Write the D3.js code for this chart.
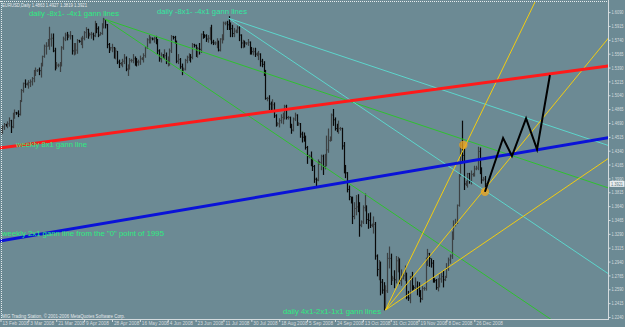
<!DOCTYPE html>
<html>
<head>
<meta charset="utf-8">
<script src="https://cdn.jsdelivr.net/npm/d3@7"></script>
<style>
  html, body { margin: 0; padding: 0; background: #6c8a94; overflow: hidden; }
  svg { display: block; }
  text { font-family: "Liberation Sans", Arial, sans-serif; }
</style>
</head>
<body>
<div id="chart"></div>
<script>
const title = 'EURUSD,Daily  1.4863 1.4927 1.3819 1.3921';
const copyright = 'MIG Trading Station, \u00a9 2001-2006 MetaQuotes Software Corp.';

// one label every 16 bars, first label = bar 0
const dateLabels = ['13 Feb 2008', '3 Mar 2008', '21 Mar 2008', '9 Apr 2008', '28 Apr 2008',
  '16 May 2008', '4 Jun 2008', '23 Jun 2008', '11 Jul 2008', '30 Jul 2008', '18 Aug 2008',
  '5 Sep 2008', '24 Sep 2008', '13 Oct 2008', '31 Oct 2008', '19 Nov 2008', '8 Dec 2008',
  '26 Dec 2008'];
const dateLabelStep = 16;

const priceTicks = [1.6090, 1.5915, 1.5740, 1.5565, 1.5390, 1.5215, 1.5040, 1.4865, 1.4690,
  1.4515, 1.4340, 1.4165, 1.3990, 1.3815, 1.3640, 1.3465, 1.3290, 1.3115, 1.2940, 1.2765,
  1.2590, 1.2415, 1.2240];
const lastPrice = 1.3921;

// daily bars (Sunday sessions included)
const highs = [
  1.4640, 1.4660, 1.4690, 1.4680, 1.4710, 1.4760, 1.4730, 1.4820, 1.4860, 1.4830,
  1.4850, 1.4980, 1.5120, 1.5200, 1.5240, 1.5200, 1.5230, 1.5240, 1.5270, 1.5360,
  1.5390, 1.5370, 1.5390, 1.5450, 1.5540, 1.5680, 1.5710, 1.5750, 1.5905, 1.5820,
  1.5820, 1.5640, 1.5460, 1.5440, 1.5460, 1.5660, 1.5780, 1.5830, 1.5840, 1.5810,
  1.5850, 1.5800, 1.5700, 1.5700, 1.5750, 1.5740, 1.5770, 1.5790, 1.5850, 1.5900,
  1.5880, 1.5830, 1.5840, 1.5830, 1.5980, 1.5950, 1.5910, 1.5840, 1.5950, 1.6018,
  1.6000, 1.5940, 1.5700, 1.5650, 1.5690, 1.5650, 1.5640, 1.5600, 1.5490, 1.5460,
  1.5500, 1.5560, 1.5530, 1.5430, 1.5510, 1.5500, 1.5560, 1.5530, 1.5510, 1.5490,
  1.5540, 1.5520, 1.5570, 1.5660, 1.5760, 1.5800, 1.5780, 1.5770, 1.5780, 1.5790,
  1.5750, 1.5620, 1.5580, 1.5560, 1.5620, 1.5580, 1.5530, 1.5630, 1.5800, 1.5790,
  1.5790, 1.5730, 1.5560, 1.5510, 1.5440, 1.5390, 1.5500, 1.5540, 1.5570, 1.5560,
  1.5700, 1.5690, 1.5680, 1.5650, 1.5700, 1.5820, 1.5850, 1.5810, 1.5810, 1.5800,
  1.5900, 1.5930, 1.5740, 1.5720, 1.5760, 1.5730, 1.5760, 1.5810, 1.5970, 1.5970,
  1.5980, 1.6038, 1.5960, 1.5930, 1.5890, 1.5870, 1.5920, 1.5910, 1.5810, 1.5740,
  1.5730, 1.5710, 1.5750, 1.5720, 1.5650, 1.5640, 1.5640, 1.5580, 1.5600, 1.5570,
  1.5500, 1.5470, 1.5360, 1.5020, 1.5040, 1.4960, 1.4990, 1.4950, 1.4800, 1.4700,
  1.4750, 1.4800, 1.4820, 1.4920, 1.4920, 1.4780, 1.4770, 1.4680, 1.4760, 1.4820,
  1.4800, 1.4700, 1.4690, 1.4580, 1.4570, 1.4530, 1.4400, 1.4290, 1.4330, 1.4250,
  1.4160, 1.4000, 1.4230, 1.4210, 1.4290, 1.4290, 1.4300, 1.4530, 1.4620, 1.4520,
  1.4810, 1.4867, 1.4760, 1.4680, 1.4720, 1.4640, 1.4630, 1.4450, 1.4160, 1.4070,
  1.3900, 1.3760, 1.3760, 1.3690, 1.3780, 1.3790, 1.3690, 1.3460, 1.3650, 1.3800,
  1.3650, 1.3550, 1.3560, 1.3420, 1.3510, 1.3440, 1.3030, 1.2960, 1.2940, 1.2720,
  1.2680, 1.2640, 1.3050, 1.3130, 1.3040, 1.2760, 1.2830, 1.3010, 1.3000, 1.2980,
  1.2840, 1.2800, 1.2890, 1.2800, 1.2570, 1.2760, 1.2810, 1.2640, 1.2740, 1.2690,
  1.2680, 1.2580, 1.2630, 1.2620, 1.2990, 1.3100, 1.3050, 1.2980, 1.2960, 1.2730,
  1.2720, 1.2730, 1.2780, 1.2800, 1.2830, 1.2760, 1.2920, 1.2990, 1.3030, 1.3320,
  1.3460, 1.3480, 1.3660, 1.4050, 1.4450, 1.4719, 1.4380, 1.3960, 1.4060, 1.4060,
  1.4090, 1.4060, 1.4150, 1.4150, 1.4390, 1.4380, 1.4130, 1.4010, 1.4020];

const lows = [
  1.4550, 1.4560, 1.4610, 1.4650, 1.4630, 1.4650, 1.4570, 1.4630, 1.4750, 1.4800,
  1.4770, 1.4790, 1.4960, 1.5080, 1.5140, 1.5170, 1.5130, 1.5150, 1.5170, 1.5210,
  1.5290, 1.5340, 1.5300, 1.5270, 1.5410, 1.5520, 1.5560, 1.5660, 1.5620, 1.5660,
  1.5590, 1.5360, 1.5380, 1.5400, 1.5340, 1.5410, 1.5620, 1.5730, 1.5740, 1.5770,
  1.5750, 1.5560, 1.5550, 1.5560, 1.5570, 1.5710, 1.5680, 1.5640, 1.5740, 1.5770,
  1.5760, 1.5790, 1.5760, 1.5740, 1.5780, 1.5830, 1.5780, 1.5800, 1.5810, 1.5890,
  1.5890, 1.5640, 1.5580, 1.5610, 1.5590, 1.5510, 1.5500, 1.5440, 1.5390, 1.5420,
  1.5400, 1.5440, 1.5350, 1.5290, 1.5370, 1.5460, 1.5450, 1.5420, 1.5410, 1.5420,
  1.5430, 1.5490, 1.5460, 1.5520, 1.5630, 1.5700, 1.5700, 1.5740, 1.5710, 1.5690,
  1.5560, 1.5470, 1.5460, 1.5520, 1.5500, 1.5440, 1.5410, 1.5420, 1.5580, 1.5750,
  1.5700, 1.5450, 1.5440, 1.5380, 1.5300, 1.5350, 1.5360, 1.5450, 1.5480, 1.5460,
  1.5500, 1.5650, 1.5530, 1.5520, 1.5560, 1.5580, 1.5760, 1.5770, 1.5720, 1.5710,
  1.5740, 1.5690, 1.5680, 1.5680, 1.5640, 1.5600, 1.5600, 1.5700, 1.5740, 1.5930,
  1.5870, 1.5870, 1.5780, 1.5780, 1.5780, 1.5830, 1.5830, 1.5730, 1.5640, 1.5640,
  1.5650, 1.5680, 1.5670, 1.5560, 1.5560, 1.5550, 1.5530, 1.5540, 1.5490, 1.5410,
  1.5400, 1.5290, 1.4990, 1.4970, 1.4860, 1.4850, 1.4860, 1.4760, 1.4650, 1.4660,
  1.4640, 1.4690, 1.4680, 1.4740, 1.4740, 1.4740, 1.4630, 1.4560, 1.4590, 1.4720,
  1.4660, 1.4660, 1.4510, 1.4450, 1.4460, 1.4360, 1.4180, 1.4250, 1.4150, 1.4090,
  1.3940, 1.3880, 1.3960, 1.4170, 1.4100, 1.4040, 1.4110, 1.4150, 1.4320, 1.4460,
  1.4470, 1.4660, 1.4600, 1.4580, 1.4560, 1.4600, 1.4360, 1.4060, 1.4000, 1.3820,
  1.3720, 1.3680, 1.3420, 1.3480, 1.3530, 1.3570, 1.3260, 1.3380, 1.3420, 1.3580,
  1.3420, 1.3360, 1.3370, 1.3380, 1.3300, 1.2970, 1.2760, 1.2710, 1.2520, 1.2540,
  1.2330, 1.2350, 1.2550, 1.2860, 1.2650, 1.2700, 1.2610, 1.2670, 1.2810, 1.2660,
  1.2640, 1.2720, 1.2700, 1.2470, 1.2450, 1.2420, 1.2580, 1.2590, 1.2590, 1.2520,
  1.2500, 1.2430, 1.2460, 1.2580, 1.2580, 1.2890, 1.2880, 1.2870, 1.2680, 1.2680,
  1.2590, 1.2570, 1.2620, 1.2680, 1.2620, 1.2700, 1.2740, 1.2830, 1.2920, 1.2980,
  1.3220, 1.3390, 1.3420, 1.3640, 1.4020, 1.4200, 1.3850, 1.3900, 1.3880, 1.3930,
  1.3920, 1.4020, 1.4020, 1.4100, 1.4100, 1.4050, 1.3930, 1.3960, 1.3880];

const closes = [
  1.4590, 1.4640, 1.4670, 1.4665, 1.4680, 1.4720, 1.4640, 1.4780, 1.4820, 1.4815,
  1.4800, 1.4970, 1.5100, 1.5190, 1.5180, 1.5190, 1.5200, 1.5210, 1.5250, 1.5350,
  1.5350, 1.5360, 1.5350, 1.5420, 1.5530, 1.5660, 1.5660, 1.5720, 1.5750, 1.5760,
  1.5600, 1.5400, 1.5420, 1.5420, 1.5420, 1.5640, 1.5750, 1.5800, 1.5790, 1.5790,
  1.5790, 1.5600, 1.5600, 1.5610, 1.5730, 1.5720, 1.5720, 1.5760, 1.5830, 1.5870,
  1.5800, 1.5810, 1.5810, 1.5790, 1.5940, 1.5880, 1.5800, 1.5820, 1.5930, 1.6000,
  1.5930, 1.5680, 1.5630, 1.5640, 1.5640, 1.5540, 1.5600, 1.5460, 1.5440, 1.5440,
  1.5470, 1.5510, 1.5370, 1.5390, 1.5480, 1.5480, 1.5500, 1.5470, 1.5460, 1.5460,
  1.5500, 1.5510, 1.5540, 1.5640, 1.5740, 1.5750, 1.5760, 1.5750, 1.5760, 1.5740,
  1.5600, 1.5500, 1.5550, 1.5540, 1.5540, 1.5470, 1.5470, 1.5600, 1.5780, 1.5770,
  1.5720, 1.5470, 1.5490, 1.5400, 1.5370, 1.5370, 1.5480, 1.5520, 1.5530, 1.5520,
  1.5680, 1.5670, 1.5560, 1.5630, 1.5620, 1.5810, 1.5800, 1.5790, 1.5750, 1.5760,
  1.5880, 1.5710, 1.5700, 1.5700, 1.5700, 1.5610, 1.5750, 1.5750, 1.5950, 1.5950,
  1.5930, 1.5920, 1.5880, 1.5820, 1.5850, 1.5850, 1.5890, 1.5800, 1.5700, 1.5710,
  1.5700, 1.5700, 1.5710, 1.5620, 1.5590, 1.5590, 1.5560, 1.5560, 1.5560, 1.5470,
  1.5430, 1.5340, 1.5000, 1.5000, 1.4930, 1.4920, 1.4920, 1.4780, 1.4680, 1.4680,
  1.4720, 1.4760, 1.4760, 1.4900, 1.4760, 1.4760, 1.4650, 1.4600, 1.4740, 1.4790,
  1.4680, 1.4680, 1.4550, 1.4510, 1.4500, 1.4380, 1.4270, 1.4270, 1.4220, 1.4140,
  1.3980, 1.3970, 1.4190, 1.4190, 1.4270, 1.4140, 1.4260, 1.4350, 1.4470, 1.4500,
  1.4790, 1.4730, 1.4620, 1.4610, 1.4620, 1.4620, 1.4400, 1.4100, 1.4060, 1.3850,
  1.3760, 1.3700, 1.3510, 1.3610, 1.3630, 1.3610, 1.3400, 1.3440, 1.3620, 1.3620,
  1.3470, 1.3460, 1.3400, 1.3400, 1.3410, 1.3010, 1.2840, 1.2890, 1.2680, 1.2580,
  1.2480, 1.2570, 1.2980, 1.2980, 1.2730, 1.2730, 1.2710, 1.2950, 1.2960, 1.2700,
  1.2730, 1.2760, 1.2780, 1.2490, 1.2480, 1.2750, 1.2620, 1.2610, 1.2630, 1.2610,
  1.2560, 1.2470, 1.2600, 1.2600, 1.2970, 1.3040, 1.2980, 1.2920, 1.2710, 1.2700,
  1.2610, 1.2680, 1.2720, 1.2750, 1.2710, 1.2740, 1.2860, 1.2960, 1.3010, 1.3310,
  1.3400, 1.3430, 1.3650, 1.4030, 1.4410, 1.4280, 1.3920, 1.3940, 1.4050, 1.3960,
  1.4040, 1.4040, 1.4110, 1.4120, 1.4330, 1.4100, 1.3970, 1.3980, 1.3921];

// trend / gann lines as [bar, price] pairs
const redLine = [[-2, 1.4368], [350, 1.5413]];
const blueLine = [[-2, 1.3193], [350, 1.4509]];
const greenFan = [
  [[60, 1.5999], [350, 1.3862]],
  [[60, 1.5999], [350, 1.1707]]];
const cyanFan = [
  [[131, 1.6012], [350, 1.4398]],
  [[131, 1.6012], [350, 1.2771]]];
const yellowFan = [
  [[221, 1.2328], [350, 1.8173]],
  [[221, 1.2328], [350, 1.5789]],
  [[221, 1.2328], [350, 1.4258]]];
const zigzag = [[278.1, 1.3822], [288.5, 1.4500], [293.6, 1.4273],
  [301.7, 1.4749], [308.0, 1.4357], [315.4, 1.5296]];
const markers = [[265.7, 1.4412], [278.1, 1.3822]];

const notes = [
  { text: 'daily -8x1- -4x1 gann lines', x: 29, y: 16, w: 90, color: '#2eea80' },
  { text: 'daily -8x1- -4x1 gann lines', x: 157, y: 14, w: 90, color: '#34e6a0' },
  { text: 'weekly 8x1 gann line', x: 16, y: 146.5, w: 71, color: '#2eea80' },
  { text: 'weekly 2x1 gann line from the "0" point of 1995', x: 2, y: 235.8, w: 162, color: '#2eea80' },
  { text: 'daily 4x1-2x1-1x1 gann lines', x: 283, y: 313.5, w: 98, color: '#2eea80' },
];

const W = 625, H = 327;
const plot = { right: 608, bottom: 319 };
const barStep = 1.742;
const axisColor = '#d4dbde';

const x = d3.scaleLinear().domain([0, 100]).range([0.5, 0.5 + 100 * barStep]);
const y = d3.scaleLinear().domain([1.2240, 1.6090]).range([317, 12.1]);

const svg = d3.select('#chart').append('svg')
  .attr('width', W).attr('height', H)
  .attr('viewBox', `0 0 ${W} ${H}`);

svg.append('rect').attr('width', W).attr('height', H).attr('fill', '#6c8a94');

svg.append('clipPath').attr('id', 'plot-clip')
  .append('rect').attr('x', 0).attr('y', 2).attr('width', plot.right).attr('height', plot.bottom - 2);

const g = svg.append('g').attr('clip-path', 'url(#plot-clip)');

// frame: dotted top/left, solid axes
svg.append('line').attr('x1', 0).attr('x2', plot.right).attr('y1', 1.5).attr('y2', 1.5)
  .attr('stroke', '#e6ecee').attr('stroke-dasharray', '1,1').attr('stroke-width', 1);
svg.append('line').attr('x1', 1.5).attr('x2', 1.5).attr('y1', 1).attr('y2', plot.bottom)
  .attr('stroke', '#e6ecee').attr('stroke-dasharray', '1,1').attr('stroke-width', 1);

// price bars
const bars = g.append('g');
closes.forEach((c, i) => {
  const px = Math.round(x(i)) + 0.5;
  const color = i > 0 && c < closes[i - 1] ? '#080808' : '#3c4143';
  bars.append('line')
    .attr('x1', px).attr('x2', px)
    .attr('y1', y(highs[i])).attr('y2', y(lows[i]) + 0.5)
    .attr('stroke', color).attr('stroke-width', 1.2);
  bars.append('line')
    .attr('x1', px).attr('x2', px + 1.2)
    .attr('y1', y(c)).attr('y2', y(c))
    .attr('stroke', color).attr('stroke-width', 1);
});

const line = d3.line().x(d => x(d[0])).y(d => y(d[1]));

function drawLines(list, color, width) {
  g.append('g').selectAll('path').data(list).join('path')
    .attr('d', line)
    .attr('fill', 'none')
    .attr('stroke', color)
    .attr('stroke-width', width);
}

drawLines(greenFan, '#2fc12f', 1);
drawLines(cyanFan, '#5cd6cc', 1);
drawLines(yellowFan, '#f2cc10', 1);
drawLines([redLine], '#ff1a1a', 3);
drawLines([blueLine], '#0a12d8', 3);

g.append('g').selectAll('circle').data(markers).join('circle')
  .attr('cx', d => x(d[0])).attr('cy', d => y(d[1])).attr('r', 4.2)
  .attr('fill', '#f4a81c').attr('fill-opacity', 0.75);

drawLines([zigzag], '#000', 2);

// annotations
svg.append('g').selectAll('text').data(notes).join('text')
  .attr('x', d => d.x).attr('y', d => d.y)
  .attr('textLength', d => d.w).attr('lengthAdjust', 'spacingAndGlyphs')
  .attr('font-size', 7.8)
  .attr('fill', d => d.color)
  .text(d => d.text);

svg.append('text').attr('x', 2).attr('y', 7.4)
  .attr('font-size', 4.8).attr('fill', '#e4e9eb')
  .attr('textLength', 85).attr('lengthAdjust', 'spacingAndGlyphs')
  .text(title);

svg.append('text').attr('x', 2).attr('y', 317.6)
  .attr('font-size', 4.6).attr('fill', '#e4e9eb')
  .attr('textLength', 123).attr('lengthAdjust', 'spacingAndGlyphs')
  .text(copyright);

// time axis
svg.append('line').attr('x1', 0).attr('x2', plot.right + 1).attr('y1', plot.bottom + 0.5).attr('y2', plot.bottom + 0.5)
  .attr('stroke', axisColor);

const xAxis = svg.append('g')
  .attr('transform', `translate(0, ${plot.bottom})`)
  .call(d3.axisBottom(x)
    .tickValues(dateLabels.map((d, k) => k * dateLabelStep))
    .tickFormat((d, k) => dateLabels[k])
    .tickSize(3).tickSizeOuter(0));
xAxis.select('.domain').remove();
xAxis.selectAll('line').attr('stroke', axisColor);
xAxis.selectAll('text')
  .attr('text-anchor', 'start').attr('x', 1.5).attr('y', 6).attr('dy', 0)
  .attr('font-size', 4.7).attr('fill', axisColor)
  .attr('font-family', '"Liberation Sans", Arial, sans-serif');

// price axis
svg.append('line').attr('x1', plot.right + 0.5).attr('x2', plot.right + 0.5).attr('y1', 0).attr('y2', plot.bottom + 1)
  .attr('stroke', axisColor);

const yAxis = svg.append('g')
  .attr('transform', `translate(${plot.right + 0.5}, 0)`)
  .call(d3.axisRight(y)
    .tickValues(priceTicks)
    .tickFormat(d3.format('.4f'))
    .tickSize(2).tickSizeOuter(0));
yAxis.select('.domain').remove();
yAxis.selectAll('line').attr('stroke', axisColor);
yAxis.selectAll('text')
  .attr('x', 3).attr('dy', '0.35em')
  .attr('font-size', 4.6).attr('fill', axisColor)
  .attr('textLength', 12).attr('lengthAdjust', 'spacingAndGlyphs')
  .attr('font-family', '"Liberation Sans", Arial, sans-serif');

// current price box
const box = svg.append('g').attr('transform', `translate(${plot.right + 1.5}, ${y(lastPrice)})`);
box.append('rect').attr('x', 0).attr('y', -3).attr('width', 15).attr('height', 6)
  .attr('fill', '#e8edef');
box.append('text').attr('x', 1.5).attr('y', 1.7)
  .attr('font-size', 4.6).attr('fill', '#5a7680')
  .attr('textLength', 12).attr('lengthAdjust', 'spacingAndGlyphs')
  .text(d3.format('.4f')(lastPrice));
</script>
</body>
</html>
